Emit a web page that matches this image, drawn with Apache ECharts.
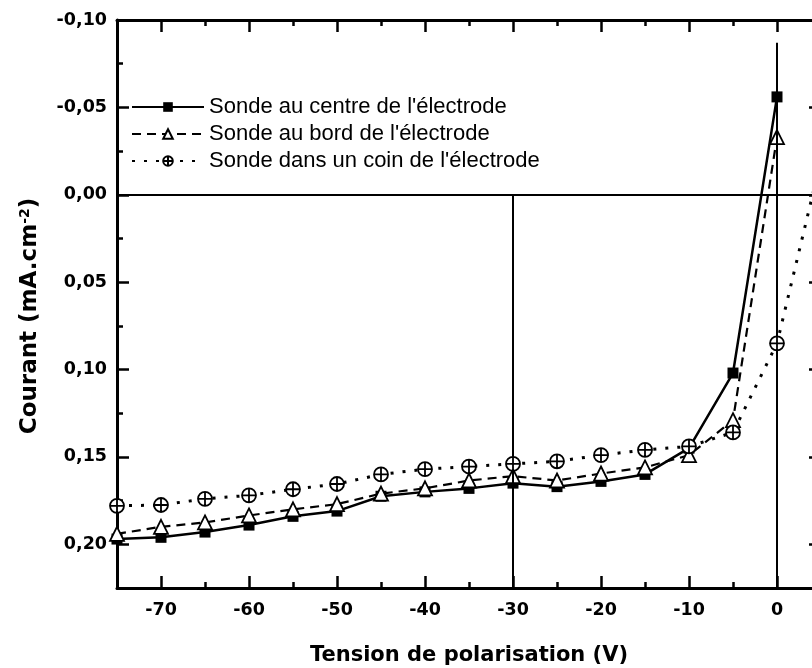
<!DOCTYPE html>
<html>
<head>
<meta charset="utf-8">
<script src="https://cdn.jsdelivr.net/npm/echarts@6/dist/echarts.min.js"></script>
<style>html,body{margin:0;padding:0;background:#fff}#c{width:812px;height:668px}</style>
</head>
<body>
<div id="c"></div>
<script>
// ---- data ----
const voltages = [-75,-70,-65,-60,-55,-50,-45,-40,-35,-30,-25,-20,-15,-10,-5,0];
const voltagesCorner = [-75,-70,-65,-60,-55,-50,-45,-40,-35,-30,-25,-20,-15,-10,-5,0,5];
const centre = [0.197,0.196,0.193,0.189,0.184,0.181,0.1725,0.170,0.168,0.165,0.167,0.164,0.160,0.145,0.102,-0.056];
const bord   = [0.194,0.190,0.1875,0.1835,0.180,0.177,0.171,0.168,0.1635,0.161,0.1635,0.1595,0.156,0.149,0.129,-0.033];
const coin   = [0.178,0.1775,0.174,0.172,0.1685,0.1655,0.160,0.157,0.1555,0.154,0.1525,0.149,0.146,0.144,0.136,0.085,-0.02];
const seriesNames = ["Sonde au centre de l'électrode","Sonde au bord de l'électrode","Sonde dans un coin de l'électrode"];
const xTitle = 'Tension de polarisation (V)';
const xRange = [-75, 5];
const yRange = [-0.10, 0.225];
// reference lines: [x1,y1,x2,y2]
const refLines = [[-30,0,-30,0.225],[0,-0.087,0,0.225],[-75,0,5,0]];

const pairs = (xs, ys) => xs.map((x,i)=>[x, ys[i]]);
const circlePlus = 'path://M10,0A10,10,0,1,1,10,20A10,10,0,1,1,10,0ZM0,10L20,10M10,0L10,20';
const tickFont = {fontFamily:'DejaVu Sans', fontWeight:'bold', fontSize:17.5, color:'#000'};
const fmtY = v => { if (Math.abs(v) < 1e-9) v = 0; return v.toFixed(2).replace('.', ','); };
const black = '#000';
const G0 = {left:117, top:20, right:-9, bottom:80, containLabel:false, outerBoundsMode:'none'};
const G1 = {left:161, top:20, right:-9, bottom:80, containLabel:false, outerBoundsMode:'none'};
const line = show => ({show:show, onZero:false, lineStyle:{color:black, width:3}});

const option = {
  backgroundColor:'#fff',
  animation:false,
  grid:[Object.assign({}, G0), Object.assign({}, G1)],
  legend:{
    orient:'vertical', left:126, top:91, itemGap:5, itemWidth:72, itemHeight:12,
    textStyle:{fontFamily:'Liberation Sans', fontSize:22, color:'#000'},
    data:seriesNames
  },
  xAxis:[
    {gridIndex:0, type:'value', min:xRange[0], max:xRange[1], interval:5, position:'bottom',
     name:xTitle, nameLocation:'middle', nameGap:57,
     nameTextStyle:{fontFamily:'DejaVu Sans', fontWeight:'bold', fontSize:21, color:'#000'},
     axisLine:line(true),
     axisTick:{show:true, inside:true, length:6, lineStyle:{color:black, width:2.5}},
     axisLabel:{show:false}, splitLine:{show:false}},
    {gridIndex:0, type:'value', min:xRange[0], max:xRange[1], interval:5, position:'top',
     axisLine:line(true),
     axisTick:{show:true, inside:true, length:6, lineStyle:{color:black, width:2.5}},
     axisLabel:{show:false}, splitLine:{show:false}},
    {gridIndex:1, type:'value', min:-70, max:xRange[1], interval:10, position:'bottom',
     axisLine:line(false),
     axisTick:{show:true, inside:true, length:12, lineStyle:{color:black, width:2.5}},
     axisLabel:Object.assign({show:true, margin:13, showMaxLabel:false}, tickFont), splitLine:{show:false}},
    {gridIndex:1, type:'value', min:-70, max:xRange[1], interval:10, position:'top',
     axisLine:line(false),
     axisTick:{show:true, inside:true, length:12, lineStyle:{color:black, width:2.5}},
     axisLabel:{show:false}, splitLine:{show:false}}
  ],
  yAxis:[
    {gridIndex:0, type:'value', inverse:true, min:yRange[0], max:yRange[1], interval:0.05, position:'left',
     name:'Courant (mA.cm{sup|-2})', nameLocation:'middle', nameGap:74, nameRotate:90,
     nameTextStyle:{fontFamily:'DejaVu Sans', fontWeight:'bold', fontSize:23, color:'#000', padding:[0,24,0,0],
       rich:{sup:{fontFamily:'DejaVu Sans', fontWeight:'bold', fontSize:14, color:'#000', verticalAlign:'top', padding:[0,0,11,0]}}},
     axisLine:line(true),
     axisTick:{show:true, inside:true, length:12, lineStyle:{color:black, width:2.5}},
     axisLabel:Object.assign({show:true, margin:10, formatter:fmtY, showMaxLabel:false}, tickFont),
     splitLine:{show:false}},
    {gridIndex:0, type:'value', inverse:true, min:yRange[0], max:yRange[1], interval:0.025, position:'left',
     axisLine:line(false),
     axisTick:{show:true, inside:true, length:6, lineStyle:{color:black, width:2.5}},
     axisLabel:{show:false}, splitLine:{show:false}},
    {gridIndex:0, type:'value', inverse:true, min:yRange[0], max:yRange[1], interval:0.05, position:'right',
     axisLine:line(true),
     axisTick:{show:true, inside:true, length:12, lineStyle:{color:black, width:2.5}},
     axisLabel:{show:false}, splitLine:{show:false}},
    {gridIndex:1, type:'value', show:false, inverse:true, min:yRange[0], max:yRange[1]}
  ],
  series:[
    {name:seriesNames[0], type:'line', xAxisIndex:0, yAxisIndex:0, data:pairs(voltages, centre),
     symbol:'rect', symbolSize:11, z:3,
     lineStyle:{color:black, width:2.5, type:'solid'},
     itemStyle:{color:black, borderColor:black, borderWidth:0},
     markLine:{silent:true, symbol:['none','none'], label:{show:false},
       lineStyle:{color:black, width:2, type:'solid'},
       data:refLines.map(r=>[{coord:[r[0],r[1]]},{coord:[r[2],r[3]]}])}},
    {name:seriesNames[1], type:'line', xAxisIndex:0, yAxisIndex:0, data:pairs(voltages, bord),
     symbol:'triangle', symbolSize:14, z:4,
     lineStyle:{color:black, width:2.2, type:[9,6]},
     itemStyle:{color:'#fff', borderColor:black, borderWidth:1.8}},
    {name:seriesNames[2], type:'line', xAxisIndex:0, yAxisIndex:0, data:pairs(voltagesCorner, coin),
     symbol:circlePlus, symbolSize:14, z:5,
     lineStyle:{color:black, width:3, type:[3,9]},
     itemStyle:{color:'#fff', borderColor:black, borderWidth:1.8}}
  ]
};
const chart = echarts.init(document.getElementById('c'), null, {renderer:'canvas'});
chart.setOption(option);
</script>
</body>
</html>
